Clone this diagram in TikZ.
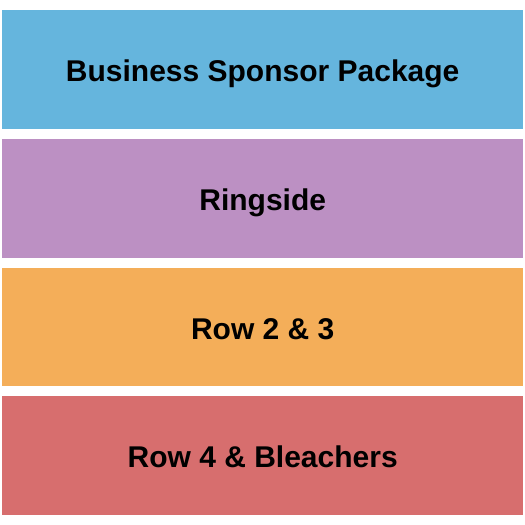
\documentclass[tikz,border=0pt]{standalone}
\usepackage{fontspec}
\setmainfont{Liberation Sans}
\definecolor{cblue}{HTML}{65B5DD}
\definecolor{cpurple}{HTML}{BC90C3}
\definecolor{corange}{HTML}{F4AE59}
\definecolor{cred}{HTML}{D76E6E}
\begin{document}
\begin{tikzpicture}[x=1pt,y=-1pt,
  band/.style={draw=none,minimum width=521pt,minimum height=118.75pt,inner sep=0pt,anchor=north west},
  lbl/.style={inner sep=0pt,anchor=base,font=\fontsize{30}{35}\selectfont\bfseries,text=black}]
\useasboundingbox (0,0) rectangle (525,525);
\node[band,fill=cblue] (b1) at (2,10) {};
\node[band,fill=cpurple] (b2) at (2,138.75) {};
\node[band,fill=corange] (b3) at (2,267.5) {};
\node[band,fill=cred] (b4) at (2,396.25) {};
\foreach \b/\t in {b1/Business Sponsor Package,b2/Ringside,b3/Row 2 \& 3,b4/Row 4 \& Bleachers}
  \node[lbl] (t\b) at ([yshift=-12pt]\b.center) {\t};
\end{tikzpicture}
\end{document}
